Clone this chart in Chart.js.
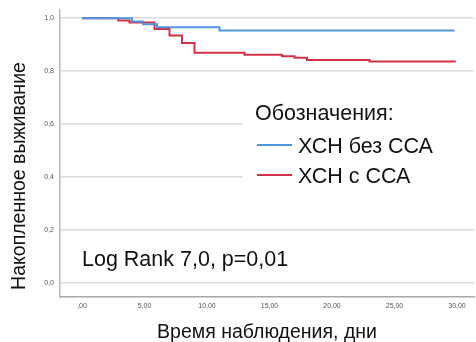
<!DOCTYPE html>
<html><head><meta charset="utf-8">
<script src="https://cdn.jsdelivr.net/npm/chart.js@4/dist/chart.umd.min.js"></script>
<style>html,body{margin:0;padding:0;background:#fff}#wrap{width:476px;height:342px;position:relative}</style>
</head><body><div id="wrap"><canvas id="c" width="476" height="342"></canvas></div>
<script>
// Kaplan–Meier data (time in days, cumulative survival)
const blueTimes = [0, 4.0, 4.9, 6.0, 11.0, 29.8];
const blueSurv  = [1.0, 0.987, 0.977, 0.966, 0.953, 0.953];
const redTimes  = [0, 2.9, 3.8, 5.8, 7.0, 8.0, 9.0, 13.0, 16.0, 17.0, 18.0, 23.0, 29.9];
const redSurv   = [1.0, 0.991, 0.984, 0.959, 0.934, 0.906, 0.869, 0.862, 0.856, 0.850, 0.842, 0.836, 0.836];
const seriesNames = ['ХСН без ССА', 'ХСН с ССА'];
const xTicks = [0, 5, 10, 15, 20, 25, 30];
const yTicks = [0, 0.2, 0.4, 0.6, 0.8, 1.0];
const legendTitle = 'Обозначения:';
const yTitle = 'Накопленное выживание';
const xTitle = 'Время наблюдения, дни';
const statText = 'Log Rank 7,0, p=0,01';

const BLUE = '#4f96e0', RED = '#d13248';
const FONT = "'Liberation Sans', Arial, sans-serif";

const toPts = (t, s) => t.map((v, i) => ({x: v, y: s[i]}));

const overlay = {
  id: 'overlay',
  afterDraw(chart) {
    const ctx = chart.ctx;
    const y = chart.scales.y;
    ctx.save();
    // y axis title
    ctx.save();
    ctx.translate(25, 176);
    ctx.rotate(-Math.PI / 2);
    ctx.font = '19.5px ' + FONT;
    ctx.fillStyle = '#111';
    ctx.textAlign = 'center';
    ctx.textBaseline = 'alphabetic';
    ctx.fillText(yTitle, 0, 0);
    ctx.restore();
    // legend box
    ctx.fillStyle = '#fff';
    ctx.fillRect(243, 97, chart.chartArea.right - 243, 95);
    ctx.fillStyle = '#111';
    ctx.font = '21.5px ' + FONT;
    ctx.textAlign = 'left';
    ctx.textBaseline = 'alphabetic';
    ctx.fillText(legendTitle, 255, 120);
    const cols = [BLUE, RED];
    const rows = [145, 175];
    seriesNames.forEach((n, i) => {
      ctx.strokeStyle = cols[i];
      ctx.lineWidth = 2;
      ctx.beginPath();
      ctx.moveTo(257, rows[i]);
      ctx.lineTo(292, rows[i]);
      ctx.stroke();
      ctx.fillStyle = '#111';
      ctx.fillText(n, 298, rows[i] + 7.5);
    });
    // log rank text
    ctx.font = '21.5px ' + FONT;
    ctx.fillText(statText, 82, 266);
    ctx.restore();
  }
};

new Chart(document.getElementById('c'), {
  type: 'line',
  data: {
    datasets: [
      {label: seriesNames[0], data: toPts(blueTimes, blueSurv), borderColor: BLUE, borderWidth: 2, stepped: 'before', pointRadius: 0, fill: false},
      {label: seriesNames[1], data: toPts(redTimes, redSurv), borderColor: RED, borderWidth: 2, stepped: 'before', pointRadius: 0, fill: false}
    ]
  },
  options: {
    responsive: false,
    animation: false,
    layout: {padding: {top: 10, right: 2, left: 0, bottom: 0}},
    plugins: {legend: {display: false}, tooltip: {enabled: false}},
    scales: {
      x: {
        type: 'linear', min: -1.76, max: 31.36,
        afterBuildTicks: s => { s.ticks = xTicks.map(v => ({value: v})); },
        afterFit: s => { s.height = 45; },
        grid: {display: false, drawTicks: false},
        border: {display: true, color: '#a8a8a8', width: 1.5},
        ticks: {padding: 5, color: '#555', font: {family: FONT, size: 7}, maxRotation: 0,
          callback: v => v === 0 ? ',00' : v.toFixed(2).replace('.', ',')},
        title: {display: true, text: xTitle, color: '#111', padding: 0, font: {family: FONT, size: 19.5, lineHeight: 1}}
      },
      y: {
        type: 'linear', min: -0.053, max: 1.03,
        afterBuildTicks: s => { s.ticks = yTicks.map(v => ({value: v})); },
        afterFit: s => { s.width = 60; },
        grid: {color: '#dcdcdc', lineWidth: 1.5, drawTicks: false},
        border: {display: true, color: '#b8b8b8', width: 1.5},
        ticks: {padding: 6, color: '#555', font: {family: FONT, size: 7},
          callback: v => v.toFixed(1).replace('.', ',')}
      }
    }
  },
  plugins: [overlay]
});
</script></body></html>
